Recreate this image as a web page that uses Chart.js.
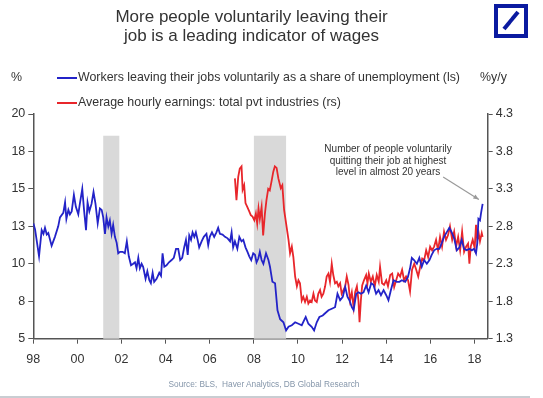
<!DOCTYPE html>
<html>
<head>
<meta charset="utf-8">
<script src="https://cdn.jsdelivr.net/npm/chart.js@4/dist/chart.umd.min.js"></script>
<style>
  body { margin: 0; background: #fff; font-family: "Liberation Sans", Arial, sans-serif; color: #333; }
  #wrap { position: relative; width: 543px; height: 398px; overflow: hidden; }
  #chartBox { position: absolute; left: 0; top: 0; width: 543px; height: 398px; }
  .txt { position: absolute; white-space: nowrap; }
  #title { left: 0; width: 503px; top: 7px; text-align: center; font-size: 17px; line-height: 19px; color: #333; }
  .legLine { position: absolute; width: 20px; height: 2px; }
  .leg { font-size: 12.4px; color: #333; }
  #note { left: 313px; width: 150px; top: 143px; text-align: center; font-size: 10px; line-height: 11.7px; color: #333; }
  #source { left: 0; width: 528px; top: 379px; text-align: center; font-size: 8.3px; color: #8596aa; }
  #bottomBar { position: absolute; left: 0; top: 396px; width: 530px; height: 2px; background: #c9cdd2; }
</style>
</head>
<body>
<div id="wrap">
  <div id="chartBox"><canvas id="lineChart"></canvas></div>
  <div class="txt" id="title">More people voluntarily leaving their<br>job is a leading indicator of wages</div>
  <svg style="position:absolute; left:494px; top:4px;" width="34" height="34">
    <rect x="2" y="2" width="30" height="30" fill="none" stroke="#0a1aa0" stroke-width="4"/>
    <line x1="10" y1="25" x2="24" y2="8" stroke="#0a1aa0" stroke-width="4"/>
  </svg>
  <div class="txt leg" style="left:11px; top:70px;">%</div>
  <div class="txt leg" style="left:480px; top:70px;">%y/y</div>
  <div class="legLine" style="left:57px; top:77px; background:#2323c8;"></div>
  <div class="txt leg" style="left:78px; top:70px;">Workers leaving their jobs voluntarily as a share of unemployment (ls)</div>
  <div class="legLine" style="left:57px; top:102px; background:#e8262b;"></div>
  <div class="txt leg" style="left:78px; top:95px;">Average hourly earnings: total pvt industries (rs)</div>
  <div class="txt" id="note">Number of people voluntarily<br>quitting their job at highest<br>level in almost 20 years</div>
  <div class="txt" id="source">Source: BLS,&nbsp; Haver Analytics, DB Global Research</div>
  <div id="bottomBar"></div>
</div>
<script>
// tick labels
const xTicks = [1998, 2000, 2002, 2004, 2006, 2008, 2010, 2012, 2014, 2016, 2018];
const leftTicks = [5, 7.5, 10, 12.5, 15, 17.5, 20];
const rightTicks = [1.3, 1.8, 2.3, 2.8, 3.3, 3.8, 4.3];

// recessions (start, end) and top of the shading on the left scale
const recessions = [[2001.17, 2001.9], [2008.0, 2009.46]];
const shadeTop = 18.55;

// annotation arrow, in data units (left scale)
const arrowFrom = [2016.58, 15.8];
const arrowTo = [2018.2, 14.3];

// quits as a share of unemployment (ls)
const blueYears = [
  1998.00, 1998.08, 1998.26, 1998.38, 1998.46, 1998.53, 1998.61, 1998.68, 1998.83, 1998.98,
  1999.13, 1999.21, 1999.36, 1999.44, 1999.50, 1999.59, 1999.66, 1999.74, 1999.84, 1999.93,
  2000.04, 2000.11, 2000.22, 2000.30, 2000.39, 2000.46, 2000.54, 2000.64, 2000.73, 2000.82,
  2000.92, 2001.02, 2001.10, 2001.17, 2001.25, 2001.32, 2001.40, 2001.47, 2001.55, 2001.62,
  2001.70, 2001.78, 2001.85, 2001.93, 2002.05, 2002.15, 2002.24, 2002.33, 2002.43, 2002.53,
  2002.61, 2002.68, 2002.76, 2002.83, 2002.91, 2002.98, 2003.09, 2003.17, 2003.26, 2003.33,
  2003.41, 2003.48, 2003.59, 2003.71, 2003.79, 2003.86, 2003.94, 2004.04, 2004.15, 2004.27,
  2004.37, 2004.47, 2004.57, 2004.66, 2004.75, 2004.84, 2004.92, 2005.00, 2005.07, 2005.15,
  2005.22, 2005.30, 2005.37, 2005.45, 2005.52, 2005.63, 2005.73, 2005.85, 2005.93, 2006.00,
  2006.10, 2006.20, 2006.30, 2006.38, 2006.46, 2006.58, 2006.69, 2006.81, 2006.92, 2006.99,
  2007.06, 2007.14, 2007.25, 2007.34, 2007.44, 2007.52, 2007.62, 2007.71, 2007.79, 2007.88,
  2007.97, 2008.05, 2008.12, 2008.20, 2008.27, 2008.35, 2008.43, 2008.55, 2008.66, 2008.73,
  2008.84, 2008.96, 2009.07, 2009.19, 2009.34, 2009.46, 2009.57, 2009.72, 2009.87, 2010.02,
  2010.17, 2010.35, 2010.47, 2010.62, 2010.73, 2010.85, 2010.97, 2011.12, 2011.23, 2011.38,
  2011.53, 2011.68, 2011.79, 2011.91, 2012.03, 2012.14, 2012.24, 2012.33, 2012.44, 2012.52,
  2012.64, 2012.74, 2012.85, 2012.97, 2013.09, 2013.20, 2013.32, 2013.42, 2013.54, 2013.65,
  2013.76, 2013.88, 2014.00, 2014.10, 2014.21, 2014.33, 2014.48, 2014.60, 2014.71, 2014.86,
  2014.98, 2015.08, 2015.16, 2015.26, 2015.39, 2015.50, 2015.61, 2015.72, 2015.84, 2015.96,
  2016.06, 2016.17, 2016.29, 2016.41, 2016.52, 2016.62, 2016.74, 2016.86, 2016.97, 2017.08,
  2017.20, 2017.32, 2017.42, 2017.53, 2017.65, 2017.77, 2017.88, 2017.98, 2018.07, 2018.13,
  2018.18, 2018.25, 2018.30, 2018.37
];
const blueValues = [
  12.7, 12.3, 10.5, 12.25, 12.0, 12.4, 11.95, 12.05, 11.2, 11.8,
  12.5, 13.1, 13.4, 14.1, 13.0, 13.6, 13.3, 13.5, 14.6, 13.8,
  13.3, 14.0, 15.0, 13.6, 12.25, 14.1, 13.5, 14.0, 14.8, 14.0,
  12.7, 13.7, 13.6, 13.1, 12.0, 13.1, 12.5, 12.9, 12.0, 12.6,
  11.8, 11.4, 10.7, 10.8, 10.8, 10.7, 11.5, 10.5, 9.9, 10.0,
  10.1, 9.7, 10.4, 9.7, 10.0, 9.8, 9.0, 9.5, 8.9, 8.7,
  9.4, 8.8, 9.0, 9.4, 9.2, 10.7, 9.8, 9.9, 10.1, 10.25,
  10.4, 11.0, 11.0, 10.25, 10.4, 11.1, 11.6, 10.6, 11.9, 11.6,
  12.1, 11.8, 12.1, 11.6, 11.1, 11.5, 11.8, 12.0, 11.25, 11.8,
  12.1, 11.8, 12.1, 12.4, 12.0, 11.95, 11.8, 11.7, 11.5, 12.1,
  11.1, 11.5, 11.0, 11.8, 11.5, 11.6, 11.1, 10.8, 10.5, 10.25,
  10.7, 10.6, 10.1, 10.35, 10.8, 10.25, 10.0, 10.7, 10.25, 9.8,
  8.8, 8.7, 6.9, 6.3, 6.1, 5.55, 5.8, 5.9, 6.1, 6.0,
  5.9, 6.45, 6.0, 5.8, 5.55, 6.1, 6.45, 6.55, 6.7, 6.9,
  7.0, 7.1, 8.0, 7.57, 7.8, 8.46, 7.8, 7.57, 7.1, 6.9,
  8.0, 8.1, 8.0, 8.1, 8.55, 8.1, 8.7, 8.6, 8.0, 8.24,
  7.9, 8.24, 7.9, 7.57, 8.24, 8.9, 8.8, 8.8, 8.9, 8.8,
  9.1, 9.7, 10.4, 10.25, 10.0, 10.4, 9.8, 10.25, 10.0, 10.25,
  10.6, 10.9, 11.0, 11.0, 11.4, 11.8, 12.1, 12.4, 12.1, 11.7,
  10.9, 11.1, 11.6, 11.0, 10.9, 11.0, 10.9, 11.0, 10.7, 11.4,
  13.0, 12.9, 13.4, 14.0
];

// average hourly earnings, %y/y (rs)
const redYears = [
  2007.14, 2007.21, 2007.29, 2007.36, 2007.44, 2007.49, 2007.56, 2007.62, 2007.70, 2007.79,
  2007.86, 2007.94, 2008.02, 2008.09, 2008.15, 2008.21, 2008.27, 2008.35, 2008.42, 2008.50,
  2008.57, 2008.65, 2008.72, 2008.80, 2008.88, 2008.95, 2009.03, 2009.11, 2009.22, 2009.29,
  2009.37, 2009.46, 2009.57, 2009.64, 2009.72, 2009.79, 2009.87, 2009.95, 2010.02, 2010.09,
  2010.17, 2010.24, 2010.32, 2010.40, 2010.47, 2010.55, 2010.62, 2010.70, 2010.77, 2010.85,
  2010.92, 2011.00, 2011.07, 2011.15, 2011.23, 2011.30, 2011.38, 2011.45, 2011.53, 2011.60,
  2011.68, 2011.76, 2011.83, 2011.91, 2011.98, 2012.06, 2012.14, 2012.21, 2012.29, 2012.36,
  2012.44, 2012.52, 2012.59, 2012.67, 2012.74, 2012.79, 2012.85, 2012.91, 2012.99, 2013.09,
  2013.15, 2013.21, 2013.30, 2013.39, 2013.48, 2013.57, 2013.66, 2013.72, 2013.81, 2013.90,
  2014.00, 2014.08, 2014.18, 2014.27, 2014.36, 2014.45, 2014.54, 2014.63, 2014.72, 2014.81,
  2014.90, 2014.99, 2015.08, 2015.17, 2015.27, 2015.36, 2015.45, 2015.54, 2015.63, 2015.72,
  2015.81, 2015.90, 2015.99, 2016.08, 2016.17, 2016.26, 2016.35, 2016.44, 2016.53, 2016.62,
  2016.71, 2016.80, 2016.89, 2016.99, 2017.08, 2017.17, 2017.26, 2017.35, 2017.44, 2017.53,
  2017.62, 2017.71, 2017.77, 2017.83, 2017.92, 2018.01, 2018.07, 2018.13, 2018.19, 2018.25,
  2018.33, 2018.37
];
const redValues = [
  3.44, 3.15, 3.46, 3.57, 3.6, 3.29, 3.35, 3.11, 3.06, 3.0,
  2.95, 2.93, 2.88, 2.97, 2.84, 3.04, 2.9, 3.06, 2.68, 2.97,
  3.15, 3.3, 3.28, 3.4, 3.53, 3.6, 3.58, 3.44, 3.31, 3.35,
  3.02, 2.84, 2.62, 2.44, 2.53, 2.39, 2.13, 2.0, 2.08, 2.04,
  1.81, 1.86, 1.79, 1.86, 1.77, 1.81, 1.79, 1.9, 1.81, 1.79,
  1.9, 1.95, 1.86, 1.9, 2.0, 2.13, 2.17, 2.06, 2.3, 2.15,
  2.04, 2.06, 2.0, 2.04, 1.9, 1.95, 2.0, 2.13, 2.02, 1.81,
  1.92, 1.72, 1.92, 2.0, 1.81, 1.52, 1.81, 2.01, 2.08, 2.15,
  2.04, 2.17, 2.06, 2.13, 2.0, 2.15, 2.06, 2.26, 2.04, 2.02,
  2.08, 2.0, 2.15, 2.17, 1.99, 2.08, 2.17, 2.13, 2.22, 2.08,
  2.13, 2.08, 1.93, 2.22, 2.3, 2.22, 2.13, 2.26, 2.37, 2.35,
  2.48, 2.39, 2.53, 2.48, 2.53, 2.62, 2.48, 2.66, 2.53, 2.73,
  2.62, 2.68, 2.8, 2.62, 2.73, 2.53, 2.66, 2.48, 2.73, 2.46,
  2.53, 2.57, 2.3, 2.53, 2.62, 2.51, 2.82, 2.62, 2.71, 2.6,
  2.71, 2.66
];

const axisColor = "#555";
const tickFont = { family: "'Liberation Sans', Arial, sans-serif", size: 12.5 };

// grey recession bars, behind the lines
const recessionPlugin = {
    id: "recessions",
    beforeDatasetsDraw(chart) {
        const { ctx, chartArea, scales } = chart;
        ctx.save();
        ctx.fillStyle = "#d9d9d9";
        const top = scales.y.getPixelForValue(shadeTop);
        recessions.forEach(r => {
            const x0 = scales.x.getPixelForValue(r[0]);
            const x1 = scales.x.getPixelForValue(r[1]);
            ctx.fillRect(x0, top, x1 - x0, chartArea.bottom - top);
        });
        ctx.restore();
    }
};

// arrow from the note to the latest reading
const arrowPlugin = {
    id: "noteArrow",
    afterDatasetsDraw(chart) {
        const { ctx, scales } = chart;
        const x0 = scales.x.getPixelForValue(arrowFrom[0]);
        const y0 = scales.y.getPixelForValue(arrowFrom[1]);
        const x1 = scales.x.getPixelForValue(arrowTo[0]);
        const y1 = scales.y.getPixelForValue(arrowTo[1]);
        const a = Math.atan2(y1 - y0, x1 - x0);
        ctx.save();
        ctx.strokeStyle = "#9a9a9a";
        ctx.fillStyle = "#9a9a9a";
        ctx.lineWidth = 1.2;
        ctx.beginPath();
        ctx.moveTo(x0, y0);
        ctx.lineTo(x1, y1);
        ctx.stroke();
        ctx.beginPath();
        ctx.moveTo(x1, y1);
        ctx.lineTo(x1 - 6 * Math.cos(a - 0.4), y1 - 6 * Math.sin(a - 0.4));
        ctx.lineTo(x1 - 6 * Math.cos(a + 0.4), y1 - 6 * Math.sin(a + 0.4));
        ctx.closePath();
        ctx.fill();
        ctx.restore();
    }
};

const ctx = document.getElementById("lineChart").getContext("2d");

new Chart(ctx, {
    type: "line",
    data: {
        datasets: [{
            label: "Workers leaving their jobs voluntarily as a share of unemployment (ls)",
            data: blueYears.map((x, i) => ({ x: x, y: blueValues[i] })),
            borderColor: "#2323c8",
            borderWidth: 1.8,
            pointRadius: 0,
            tension: 0,
            yAxisID: "y"
        }, {
            label: "Average hourly earnings: total pvt industries (rs)",
            data: redYears.map((x, i) => ({ x: x, y: redValues[i] })),
            borderColor: "#e8262b",
            borderWidth: 1.8,
            pointRadius: 0,
            tension: 0,
            yAxisID: "y1"
        }]
    },
    options: {
        responsive: true,
        maintainAspectRatio: false,
        animation: false,
        layout: { padding: { top: 114, left: 0, right: 0, bottom: 0 } },
        plugins: {
            legend: { display: false },
            tooltip: { enabled: false }
        },
        scales: {
            x: {
                type: "linear",
                min: 1998,
                max: 2018.6,
                afterBuildTicks: s => { s.ticks = xTicks.map(v => ({ value: v })); },
                afterFit: s => { s.height = 59.3; },
                ticks: {
                    color: "#333",
                    font: tickFont,
                    padding: 8,
                    maxRotation: 0,
                    callback: v => String(v % 100).padStart(2, "0")
                },
                grid: { drawOnChartArea: false, tickLength: 5, color: axisColor },
                border: { color: axisColor, width: 1.5 }
            },
            y: {
                position: "left",
                min: 5,
                max: 20,
                afterBuildTicks: s => { s.ticks = leftTicks.map(v => ({ value: v })); },
                afterFit: s => { s.width = 33.3; },
                ticks: {
                    color: "#333",
                    font: tickFont,
                    padding: 3,
                    callback: v => String(Math.round(v))
                },
                grid: { drawOnChartArea: false, tickLength: 5, color: axisColor },
                border: { color: axisColor, width: 1.5 }
            },
            y1: {
                position: "right",
                min: 1.3,
                max: 4.3,
                afterBuildTicks: s => { s.ticks = rightTicks.map(v => ({ value: v })); },
                afterFit: s => { s.width = 55.3; },
                ticks: {
                    color: "#333",
                    font: tickFont,
                    padding: 3,
                    callback: v => v.toFixed(1)
                },
                grid: { drawOnChartArea: false, tickLength: 5, color: axisColor },
                border: { color: axisColor, width: 1.5 }
            }
        }
    },
    plugins: [recessionPlugin, arrowPlugin]
});
</script>
</body>
</html>
